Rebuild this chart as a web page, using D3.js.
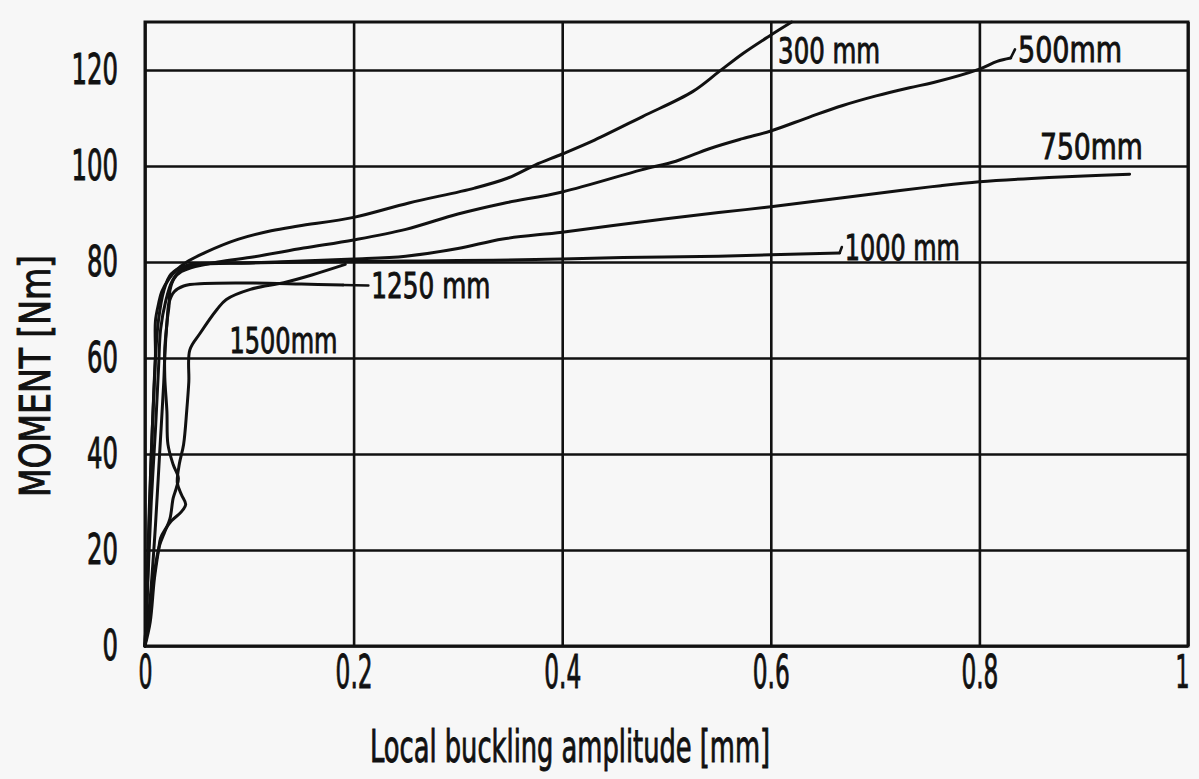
<!DOCTYPE html>
<html><head><meta charset="utf-8">
<script src="https://cdn.jsdelivr.net/npm/d3@7"></script>
<style>
html,body{margin:0;padding:0;background:#f7f7f7;}
svg{display:block;}
text{font-family:"Liberation Sans Narrow","DejaVu Sans Condensed","DejaVu Sans",sans-serif;fill:#111;stroke:#111;stroke-width:0.9px;font-weight:normal;}
</style></head><body>
<svg id="chart" width="1199" height="779"></svg>
<script>
// ---- data ----
const xTicks = [0, 0.2, 0.4, 0.6, 0.8, 1];
const xTickLabels = ["0", "0.2", "0.4", "0.6", "0.8", "1"];
const yTicks = [0, 20, 40, 60, 80, 100, 120];
const yTickLabels = ["0", "20", "40", "60", "80", "100", "120"];
const yMax = 130;
const xTitle = "Local buckling amplitude [mm]";
const yTitle = "MOMENT [Nm]";

const seriesNames = ["300 mm", "500mm", "750mm", "1000 mm", "1250 mm", "1500mm"];

const s300 = [[0,0],[0.002,10],[0.004,25],[0.006,40],[0.009,55],[0.010,60.5],[0.010,67.7],[0.013,71.3],[0.016,73.8],[0.023,76.5],[0.030,78.3],[0.040,80],[0.058,82],[0.089,84.7],[0.121,86.5],[0.147,87.5],[0.200,89.3],[0.253,92.3],[0.316,95.4],[0.348,97.5],[0.374,100.2],[0.400,102.5],[0.431,105.4],[0.477,110.3],[0.525,115.5],[0.550,119.6],[0.573,123.4],[0.598,127],[0.620,130]];
const s500 = [[0,0],[0.005,10],[0.010,25],[0.014,40],[0.018,55],[0.019,60.4],[0.021,67.3],[0.023,70.8],[0.024,74.2],[0.028,76.6],[0.035,78],[0.044,78.8],[0.070,80],[0.105,81.1],[0.152,82.9],[0.200,84.6],[0.250,86.8],[0.300,90],[0.343,92.2],[0.400,94.6],[0.476,99.2],[0.509,101],[0.541,103.6],[0.573,105.7],[0.600,107.3],[0.637,110.2],[0.669,112.6],[0.701,114.6],[0.733,116.3],[0.756,117.4],[0.800,120.2],[0.817,121.8],[0.830,122.5]];
const s750 = [[0,0],[0.003,15],[0.006,30],[0.010,45],[0.013,58],[0.015,66],[0.020,72],[0.026,76],[0.035,78.5],[0.050,79.4],[0.100,79.8],[0.150,80.2],[0.200,80.6],[0.250,81.2],[0.300,82.8],[0.343,84.8],[0.400,86.2],[0.477,88.4],[0.550,90.3],[0.600,91.5],[0.669,93.4],[0.724,94.9],[0.763,95.9],[0.800,96.7],[0.850,97.4],[0.900,97.9],[0.944,98.3]];
const s1000 = [[0,0],[0.002,12],[0.004,28],[0.007,45],[0.010,60],[0.013,68],[0.018,74],[0.025,77.5],[0.040,79.3],[0.100,79.8],[0.200,80.1],[0.300,80.3],[0.400,80.6],[0.477,81],[0.550,81.2],[0.600,81.5],[0.666,81.9]];
const s1250 = [[0,0],[0.006,10],[0.011,18],[0.014,21],[0.019,23.8],[0.024,26.6],[0.027,30.8],[0.030,32.9],[0.032,35],[0.027,37.8],[0.022,42],[0.021,48.9],[0.019,55.9],[0.019,62],[0.021,67],[0.023,71.5],[0.028,73.8],[0.037,75],[0.057,75.5],[0.105,75.6],[0.150,75.4],[0.190,75.2]];
const s1500 = [[0,0],[0.005,5],[0.009,14],[0.013,20],[0.015,22.5],[0.020,24.5],[0.025,26],[0.035,28],[0.039,29.5],[0.035,31.5],[0.031,34],[0.033,38],[0.037,42],[0.040,49],[0.042,55],[0.043,61.7],[0.053,65.2],[0.069,70.1],[0.078,72.2],[0.101,74.3],[0.133,75.7],[0.160,77.3],[0.192,79.5]];
const seriesData = [s300, s500, s750, s1000, s1250, s1500];

// label anchors (data units) and whether a leader joins curve end to label
const labelX = [0.607, 0.837, 0.858, 0.671, 0.217, 0.081];
const labelY = [121.5, 121.6, 101.5, 80.4, 72.4, 61];
const labelLeader = [false, true, false, true, true, false];
const labelWidth = [102, 104, 103, 115, 119, 108];

// ---- drawing ----
const svg = d3.select("#chart");
svg.append("rect").attr("width",1199).attr("height",779).attr("fill","#f7f7f7");

const x = d3.scaleLinear().domain([0,1]).range([145,1188]);
const y = d3.scaleLinear().domain([0,yMax]).range([646,22]);
const ink = "#111";

// grid via axes
const gY = svg.append("g").attr("transform",`translate(${x(0)},0)`)
  .call(d3.axisLeft(y).tickValues(yTicks).tickFormat((d,i)=>yTickLabels[i])
        .tickSize(-(x(1)-x(0))).tickSizeOuter(0).tickPadding(27));
gY.select(".domain").remove();
gY.selectAll(".tick line").attr("stroke",ink).attr("stroke-width",2.6);
gY.selectAll(".tick text").attr("font-size",42).attr("fill",ink)
  .attr("textLength",(d,i)=>yTickLabels[i].length*15.5)
  .attr("lengthAdjust","spacingAndGlyphs");

const gX = svg.append("g").attr("transform",`translate(0,${y(0)})`)
  .call(d3.axisBottom(x).tickValues(xTicks).tickFormat((d,i)=>xTickLabels[i])
        .tickSize(-(y(0)-y(yMax))).tickSizeOuter(0).tickPadding(9));
gX.select(".domain").remove();
gX.selectAll(".tick line").attr("stroke",ink).attr("stroke-width",2.6);
gX.selectAll(".tick text").attr("font-size",46).attr("fill",ink)
  .each(function(d,i){
    const t = xTickLabels[i];
    const s = d3.select(this);
    if (t.length > 1) s.attr("textLength",37).attr("lengthAdjust","spacingAndGlyphs");
    else if (t === "0") s.attr("textLength",14).attr("lengthAdjust","spacingAndGlyphs");
    else s.attr("transform","scale(0.55,1)").attr("dx",-6/0.55).style("stroke-width","0.6px");
  });

// frame
svg.append("rect").attr("x",x(0)).attr("y",y(yMax))
  .attr("width",x(1)-x(0)).attr("height",y(0)-y(yMax))
  .attr("fill","none").attr("stroke",ink).attr("stroke-width",3);

// curves
const line = d3.line().x(d=>x(d[0])).y(d=>y(d[1])).curve(d3.curveCatmullRom.alpha(0.5));
svg.append("g").selectAll("path").data(seriesData).join("path")
  .attr("d",line).attr("fill","none").attr("stroke",ink)
  .attr("stroke-width",3).attr("stroke-linejoin","round").attr("stroke-linecap","round");

// labels + leaders
const capPx = 26;
seriesNames.forEach((name,i)=>{
  const lx = x(labelX[i]), ly = y(labelY[i]);
  if (labelLeader[i]) {
    const end = seriesData[i][seriesData[i].length-1];
    svg.append("path")
      .attr("d", d3.line()([[x(end[0]), y(end[1])], [lx-3, ly-capPx/2]]))
      .attr("stroke",ink).attr("stroke-width",2.6).attr("fill","none").attr("stroke-linecap","round");
  }
  svg.append("text").attr("x",lx).attr("y",ly).attr("font-size",36)
    .attr("textLength",labelWidth[i]).attr("lengthAdjust","spacingAndGlyphs")
    .text(name);
});

// axis titles
svg.append("text").attr("x",370).attr("y",762).attr("font-size",44)
  .attr("textLength",400).attr("lengthAdjust","spacingAndGlyphs").text(xTitle);
svg.append("text").attr("transform","translate(50,497) rotate(-90)")
  .attr("font-size",42).attr("textLength",242).attr("lengthAdjust","spacingAndGlyphs").text(yTitle);
</script>
</body></html>
